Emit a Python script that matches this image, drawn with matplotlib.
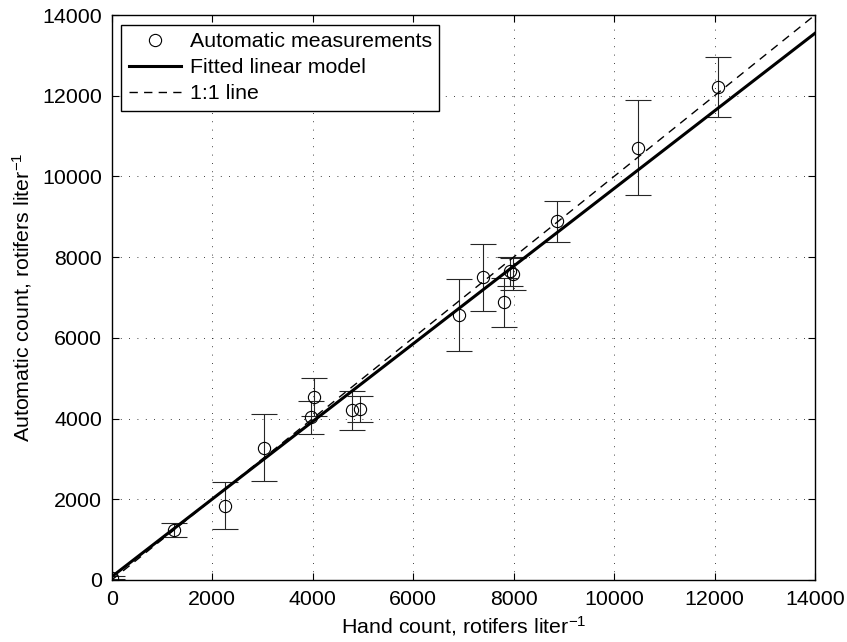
import numpy as np
import matplotlib
matplotlib.use("Agg")
import matplotlib.pyplot as plt

# hand count vs automatic count, with std error bars
hand_count = [0, 1240, 2255, 3030, 3961, 4030, 4777, 4942,
              6920, 7390, 7809, 7930, 7980, 8857, 10482, 12075]
auto_count = [60, 1240, 1845, 3280, 4030, 4540, 4200, 4240,
              6566, 7500, 6880, 7650, 7580, 8890, 10713, 12225]
auto_err = [40, 175, 590, 830, 415, 470, 485, 320,
            890, 825, 610, 360, 400, 508, 1170, 743]

fit_intercept = 80
fit_slope = 0.962
line_x = [0, 14000]

FS = 15.4

plt.rcParams["font.family"] = ["Liberation Sans", "DejaVu Sans"]
plt.rcParams["mathtext.default"] = "regular"
plt.rcParams["font.size"] = FS


def main():
    fig = plt.figure(figsize=(8.47, 6.42), dpi=100)
    ax = fig.add_axes([0.1319, 0.0966, 0.8303, 0.88])

    ax.errorbar(hand_count, auto_count, yerr=auto_err, fmt="none",
                ecolor="0.15", elinewidth=0.8, capsize=9.5, capthick=0.8, zorder=2)
    ax.plot(hand_count, auto_count, "o", mfc="none", mec="black", mew=0.8,
            ms=8.8, label="Automatic measurements", zorder=3)

    lx = np.array(line_x, dtype=float)
    ax.plot(lx, fit_intercept + fit_slope * lx, "-", color="black", lw=2.2,
            label="Fitted linear model", zorder=4)
    ax.plot(lx, lx, "--", color="black", lw=1.0, dashes=(6, 4.5),
            label="1:1 line", zorder=4)

    ax.set_xlim(0, 14000)
    ax.set_ylim(0, 14000)
    ax.set_xticks(np.arange(0, 14001, 2000))
    ax.set_yticks(np.arange(0, 14001, 2000))
    ax.tick_params(direction="in", length=5, width=0.8, top=True, right=True,
                   pad=7, labelsize=FS)
    ax.grid(True, color="black", lw=0.6, dashes=(1, 9))
    ax.set_axisbelow(True)
    for sp in ax.spines.values():
        sp.set_linewidth(1.0)

    ax.set_xlabel("Hand count, rotifers liter$^{-1}$", fontsize=FS, labelpad=4)
    ax.set_ylabel("Automatic count, rotifers liter$^{-1}$", fontsize=FS, labelpad=6)

    leg = ax.legend(loc="upper left", fontsize=FS, frameon=True, fancybox=False,
                    framealpha=1, edgecolor="black", handlelength=2.45,
                    handletextpad=0.4, labelspacing=0.33, borderaxespad=0.45,
                    borderpad=0.35)
    leg.get_frame().set_linewidth(1.0)

    fig.savefig("out.png", dpi=100)


if __name__ == "__main__":
    main()
